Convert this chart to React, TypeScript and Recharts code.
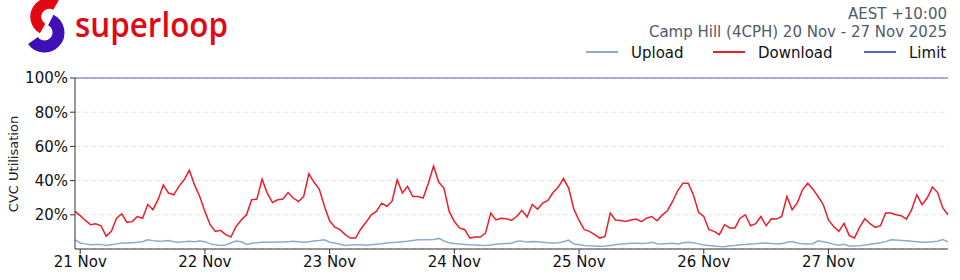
import { CartesianGrid, Line, LineChart, ReferenceLine, XAxis, YAxis } from 'recharts'

// hourly CVC utilisation (%), starting 20 Nov 23:00 AEST
const DOWNLOAD = [
  22, 19.5, 16.7, 14.2, 14.8, 13.6, 7.5, 10.3, 18, 20.6, 15.6, 16, 19, 18,
  26, 23, 29, 37.5, 32.7, 31.7, 36.6, 40.5, 46, 37.5, 30.7, 22, 14.2, 10.3,
  10.9, 8.4, 7, 13.2, 17, 20, 28.8, 29.2, 40.8, 32.7, 27.2, 28.8, 29.2, 33,
  29.8, 27.8, 30.7, 44, 39, 35, 25, 16.5, 12.8, 11.3, 8.4, 6.4, 6.4, 11.7,
  15.6, 20, 22, 26.8, 25, 27.8, 40.5, 32.7, 36.6, 30.7, 30.7, 29.8, 38.5, 48.5,
  39, 35.6, 22, 16.1, 12.3, 11.3, 6.4, 7, 7, 9.3, 21, 17, 18, 17.7,
  16.7, 19, 22.6, 18.7, 26, 23.3, 26.8, 28.4, 33, 36.2, 41.2, 35.6, 23.3, 16.7,
  11.3, 10.3, 8.4, 6.4, 7.4, 21, 17, 16.7, 16.1, 17, 17.5, 16, 18, 19,
  16.5, 19.8, 22.4, 27.8, 34.2, 38.5, 38.5, 31.7, 21.4, 19, 11.3, 10.3, 8.4, 14.2,
  12.3, 12.3, 18, 20, 13.6, 14.8, 19, 13.6, 17.7, 17.5, 19, 30.7, 23, 27,
  34.6, 38.5, 35, 30.7, 25.9, 17, 13.2, 10.3, 15, 7.8, 6.4, 12.8, 17.7, 14.8,
  12.6, 13.6, 21, 21, 20, 19.5, 17.5, 23, 31.7, 25.9, 29.8, 36.2, 33, 24, 20,
]

const UPLOAD = [
  5.4, 3.5, 3, 2.5, 2.7, 2.7, 2, 2.5, 3, 3.5, 3.5, 3.7, 3.9, 4.3,
  5.4, 4.9, 4.5, 4.7, 5, 4.2, 4, 4.3, 4.5, 4.2, 4.7, 4.3, 3, 2.5,
  2.1, 2.3, 3.5, 4.7, 4.2, 2.7, 3.4, 3.6, 3.9, 3.9, 4, 4.1, 4.1, 4.3,
  4.5, 4.3, 3.9, 4.3, 4.7, 5, 5.4, 4, 3.5, 2.8, 2.1, 2.3, 2.5, 2.5,
  2.2, 2.5, 2.8, 3.1, 3.5, 3.8, 4, 4.3, 4.5, 5, 5.4, 5.4, 5.4, 5.6,
  6.2, 4.7, 3.7, 3.2, 2.9, 2.7, 2.5, 2.4, 2.2, 2.1, 2.3, 2.8, 3.1, 3.2,
  3.3, 4.5, 4.6, 4.1, 4.4, 4.2, 3.9, 3.6, 3.5, 3.6, 4.2, 5.2, 2.9, 2.5,
  2.1, 1.9, 1.8, 1.6, 1.8, 2.1, 2.5, 2.9, 3.1, 3.4, 3.3, 3.2, 3.3, 3.9,
  3.1, 2.9, 3.2, 3.4, 3, 3.7, 4, 3.6, 3, 2.4, 2.1, 1.8, 1.5, 1.3,
  1.9, 2.1, 2.5, 2.6, 2.9, 3.1, 3.4, 3.5, 3.2, 3.1, 3.1, 4, 4.4, 3.5,
  3, 2.9, 3.1, 4.8, 4.2, 3.6, 2.7, 2.2, 2.7, 1.8, 1.7, 1.9, 2.3, 2.8,
  3.2, 3.7, 4.3, 5.4, 5.2, 5, 4.8, 4.5, 4.2, 3.9, 4, 4.3, 4.5, 5.5, 4.2,
]

const LIMIT = 100
const DAY_LABELS = ['21 Nov', '22 Nov', '23 Nov', '24 Nov', '25 Nov', '26 Nov', '27 Nov']
const DAY_TICKS = DAY_LABELS.map((_, i) => 1 + i * 24) // midnight, in hours since 20 Nov 23:00
const Y_TICKS = [20, 40, 60, 80, 100]

const COLORS = { upload: '#8eabcb', download: '#ee1d2a', limit: '#5c60cc' }
const FONT = '"DejaVu Sans", sans-serif'

const data = DOWNLOAD.map((download, h) => ({ h, download, upload: UPLOAD[h] }))

const LEGEND = [
  { label: 'Upload', color: COLORS.upload, x: 586 },
  { label: 'Download', color: COLORS.download, x: 713 },
  { label: 'Limit', color: COLORS.limit, x: 864 },
]

function Overlay() {
  return (
    <svg width={960} height={280} style={{ position: 'absolute', left: 0, top: 0, pointerEvents: 'none' }}>
      {/* logo */}
      <path d="M 56 5 A 13 13 0 1 0 42.6 28.5" fill="none" stroke="#e30613" strokeWidth={11} />
      <path d="M 50.8 20 A 14 14 0 1 1 33 40.5" fill="none" stroke="#3f0fb7" strokeWidth={12} />
      <text x={75} y={37} fontFamily='"Open Sans", sans-serif' fontWeight={600} fontSize={34} fill="#e30613"
        textLength={153} lengthAdjust="spacingAndGlyphs">superloop</text>

      <text x={947} y={19} textAnchor="end" fontFamily={FONT} fontSize={15} fill="#4f5a6c">AEST +10:00</text>
      <text x={947} y={37} textAnchor="end" fontFamily={FONT} fontSize={15} fill="#4f5a6c">
        Camp Hill (4CPH) 20 Nov - 27 Nov 2025
      </text>
      {LEGEND.map((item) => (
        <g key={item.label}>
          <line x1={item.x} x2={item.x + 32} y1={52} y2={52} stroke={item.color} strokeWidth={2} />
          <text x={item.x + 45} y={57.5} fontFamily={FONT} fontSize={15} fill="#111">{item.label}</text>
        </g>
      ))}

      <text transform="translate(18,164) rotate(-90)" textAnchor="middle" fontFamily={FONT} fontSize={13} fill="#222">
        CVC Utilisation
      </text>
    </svg>
  )
}

export default function App() {
  return (
    <div style={{ position: 'absolute', left: 0, top: 0, width: 960, height: 280, background: '#fff', fontFamily: FONT }}>
      <LineChart width={960} height={280} data={data} margin={{ top: 78, right: 12, bottom: 1, left: 0 }}>
        <CartesianGrid vertical={false} stroke="#e4e4e4" strokeDasharray="5 3" />
        <XAxis
          type="number"
          dataKey="h"
          height={30}
          domain={[0, 168]}
          ticks={DAY_TICKS}
          interval={0}
          tickFormatter={(v) => DAY_LABELS[(v - 1) / 24]}
          tickSize={5}
          tick={{ fontSize: 15, fill: '#111', fontFamily: FONT }}
          stroke="#333"
        />
        <YAxis
          width={75}
          domain={[0, 100]}
          ticks={Y_TICKS}
          interval={0}
          tickFormatter={(v) => `${v}%`}
          tickSize={5}
          tick={{ fontSize: 15, fill: '#111', fontFamily: FONT }}
          stroke="#333"
        />
        <ReferenceLine y={LIMIT} stroke={COLORS.limit} strokeWidth={1.2} />
        <Line type="linear" dataKey="upload" stroke={COLORS.upload} strokeWidth={1.5} dot={false} isAnimationActive={false} />
        <Line type="linear" dataKey="download" stroke={COLORS.download} strokeWidth={1.5} dot={false} isAnimationActive={false} />
      </LineChart>
      <Overlay />
    </div>
  )
}
